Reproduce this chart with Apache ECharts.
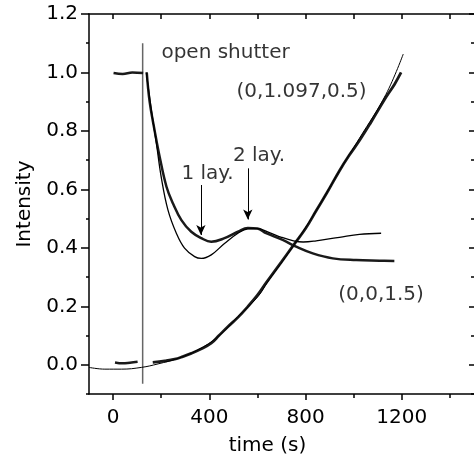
<!DOCTYPE html>
<html>
<head>
<meta charset="utf-8">
<script src="https://cdn.jsdelivr.net/npm/echarts@6/dist/echarts.min.js"></script>
<style>
  html, body { margin: 0; padding: 0; background: #fff; }
  #chart { width: 474px; height: 464px; }
</style>
</head>
<body>
<div id="chart"></div>
<script>
// (0,0,1.5) reflection: measured points, before and after the shutter
const specPre = [[2, 0.998], [40, 0.995], [80, 1.0], [125, 0.998]];
const specPost = [
  [140, 1.0], [152, 0.9], [173, 0.8], [194, 0.71], [222, 0.609], [249, 0.552],
  [284, 0.495], [325, 0.455], [367, 0.433], [408, 0.421], [463, 0.433],
  [519, 0.455], [560, 0.468], [600, 0.466], [636, 0.45], [705, 0.427],
  [761, 0.404], [830, 0.381], [913, 0.364], [1010, 0.358], [1107, 0.356],
  [1169, 0.355]
];
// (0,0,1.5) fit
const specFit = [
  [138, 1.0], [159, 0.872], [180, 0.758], [200, 0.643], [228, 0.53],
  [263, 0.45], [297, 0.399], [339, 0.37], [367, 0.364], [408, 0.376],
  [463, 0.415], [519, 0.45], [560, 0.465], [600, 0.466], [650, 0.452],
  [700, 0.436], [750, 0.424], [790, 0.42], [844, 0.424], [941, 0.436],
  [1024, 0.446], [1114, 0.45]
];
// (0,1.097,0.5) rod: measured points
const rodPre = [[8, 0.008], [40, 0.005], [70, 0.007], [102, 0.01]];
const rodPost = [
  [165, 0.008], [215, 0.013], [256, 0.019], [290, 0.028], [325, 0.039],
  [365, 0.054], [408, 0.074], [440, 0.1], [477, 0.13], [520, 0.163],
  [560, 0.199], [600, 0.238], [636, 0.28], [700, 0.352], [747, 0.406],
  [800, 0.466], [844, 0.527], [890, 0.59], [941, 0.664], [980, 0.715],
  [1024, 0.767], [1072, 0.83], [1134, 0.915], [1170, 0.96], [1197, 1.0]
];
// (0,1.097,0.5) fit
const rodFit = [
  [-100, -0.009], [-34, -0.015], [35, -0.015], [118, -0.009], [187, 0.003],
  [270, 0.022], [353, 0.051], [436, 0.096], [519, 0.165], [602, 0.233],
  [643, 0.284], [747, 0.404], [844, 0.527], [941, 0.664], [1024, 0.775],
  [1134, 0.925], [1206, 1.063]
];
const shutterLine = [[123, -0.065], [123, 1.1]];

const xTicks = [0, 400, 800, 1200];
const xMinor = [200, 600, 1000, 1400];
const xTop = [0, 200, 400, 600, 800, 1000, 1200, 1400];
const yTicks = [0, 0.2, 0.4, 0.6, 0.8, 1.0, 1.2];
const yMinor = [-0.1, 0.1, 0.3, 0.5, 0.7, 0.9, 1.1];

const notes = [
  { name: "open shutter", value: [201, 1.066] },
  { name: "(0,1.097,0.5)", value: [513, 0.934] },
  { name: "1 lay.", value: [284, 0.655] },
  { name: "2 lay.", value: [498, 0.714] },
  { name: "(0,0,1.5)", value: [936, 0.239] }
];
const arrows = [
  [[365, 0.615], [365, 0.444]],
  [[560, 0.672], [560, 0.497]]
];

const font = "DejaVu Sans";
const chart = echarts.init(document.getElementById("chart"));

const hidden = { show: false };
const xBase = { type: "value", min: -100, max: 1500, splitLine: hidden };
const yBase = { type: "value", min: -0.1, max: 1.2, splitLine: hidden };
const black = { color: "#000", width: 1.5 };
const axisLine = { onZero: false, lineStyle: black };
const noLine = { show: false, onZero: false };

const dataLine = (data, width) => ({
  type: "line", data, showSymbol: false, smooth: 0.4,
  lineStyle: { color: "#1a1a1a", width }
});

chart.setOption({
  animation: false,
  grid: { left: 89, top: 14, width: 386, height: 380 },
  xAxis: [
    {
      ...xBase,
      position: "bottom",
      axisLine,
      axisTick: { customValues: xTicks, length: 6, lineStyle: black },
      axisLabel: {
        customValues: xTicks, margin: 14, color: "#000", fontFamily: font, fontSize: 20,
        formatter: (v) => String(v)
      },
      name: "time (s)",
      nameLocation: "middle",
      nameGap: 42,
      nameTextStyle: { color: "#000", fontFamily: font, fontSize: 20, padding: [0, 28, 0, 0] }
    },
    {
      ...xBase,
      position: "bottom",
      axisLine: noLine,
      axisTick: { customValues: xMinor, length: 4, lineStyle: black },
      axisLabel: hidden
    },
    {
      ...xBase,
      position: "top",
      axisLine,
      axisTick: { customValues: xTop, inside: true, length: 5, lineStyle: black },
      axisLabel: hidden
    }
  ],
  yAxis: [
    {
      ...yBase,
      position: "left",
      axisLine,
      axisTick: { customValues: yTicks, length: 8, lineStyle: black },
      axisLabel: {
        customValues: yTicks, margin: 11, color: "#000", fontFamily: font, fontSize: 20,
        formatter: (v) => v.toFixed(1)
      },
      name: "Intensity",
      nameLocation: "middle",
      nameGap: 52,
      nameTextStyle: { color: "#000", fontFamily: font, fontSize: 20 }
    },
    {
      ...yBase,
      position: "left",
      axisLine: noLine,
      axisTick: { customValues: yMinor, length: 3, lineStyle: black },
      axisLabel: hidden
    },
    {
      ...yBase,
      position: "right",
      axisLine: noLine,
      axisTick: { customValues: yTicks, inside: true, length: 5, lineStyle: black },
      axisLabel: hidden
    },
    {
      ...yBase,
      position: "right",
      axisLine: noLine,
      axisTick: { customValues: yMinor, inside: true, length: 3, lineStyle: black },
      axisLabel: hidden
    }
  ],
  series: [
    {
      type: "line", data: shutterLine, showSymbol: false,
      lineStyle: { color: "#666", width: 1.5 }
    },
    dataLine(specPre, 2.5),
    dataLine(specPost, 2.5),
    dataLine(rodPre, 2.5),
    dataLine(rodPost, 2.8),
    {
      type: "line", data: specFit, showSymbol: false, smooth: 0.4,
      lineStyle: { color: "#000", width: 1.3 }
    },
    {
      type: "line", data: rodFit, showSymbol: false, smooth: 0.4,
      lineStyle: { color: "#000", width: 1 }
    },
    {
      type: "scatter",
      data: notes,
      symbolSize: 0,
      label: {
        show: true, position: "right", distance: 0, formatter: "{b}",
        color: "#000", fontFamily: font, fontSize: 20
      },
      markLine: {
        silent: true,
        symbol: ["none", "arrow"],
        symbolSize: [7, 10],
        label: hidden,
        lineStyle: { color: "#000", width: 1, type: "solid" },
        data: arrows.map(([a, b]) => [{ coord: a }, { coord: b }])
      }
    }
  ]
});
</script>
</body>
</html>
